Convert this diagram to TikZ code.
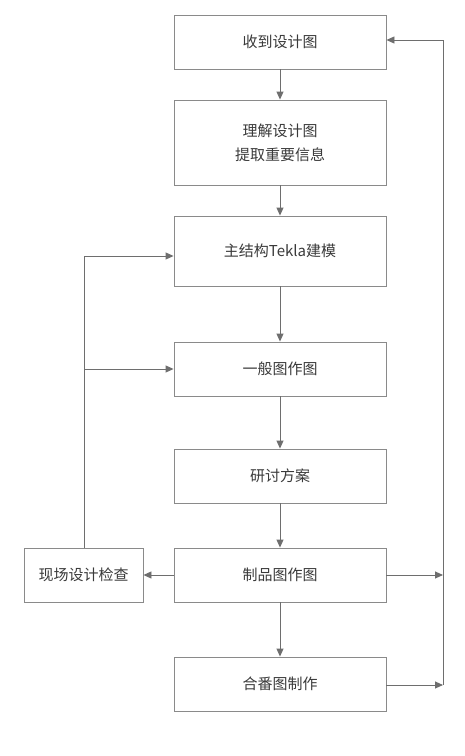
\documentclass[tikz,border=0pt]{standalone}
\usepackage{fontspec}
\setmainfont{Noto Sans CJK SC}
\usetikzlibrary{arrows.meta}
\definecolor{boxc}{HTML}{8A8A8A}
\definecolor{linec}{HTML}{6E6E6E}
\definecolor{txt}{HTML}{3A3A3A}
\begin{document}
\begin{tikzpicture}[x=1pt,y=-1pt,
  stepbox/.style={draw=boxc,line width=0.9pt,minimum width=212pt,inner sep=0pt,align=center,text=txt,font=\fontsize{15}{24}\selectfont},
  sidebox/.style={draw=boxc,line width=0.9pt,minimum width=119pt,minimum height=54pt,inner sep=0pt,align=center,text=txt,font=\fontsize{15}{24}\selectfont},
  conn/.style={draw=linec,line width=0.9pt,-{Triangle[length=8pt,width=7pt]}},
  plain/.style={draw=linec,line width=0.9pt}]
\useasboundingbox (0,0) rectangle (464,756);
\fill[white] (0,0) rectangle (464,756);
\node[stepbox,minimum height=54pt] (b1) at (280,42) {收到设计图};
\node[stepbox,minimum height=85pt] (b2) at (280,142.5) {理解设计图\\提取重要信息};
\node[stepbox,minimum height=70pt] (b3) at (280,251) {主结构Tekla建模};
\node[stepbox,minimum height=54pt] (b4) at (280,369) {一般图作图};
\node[stepbox,minimum height=54pt] (b5) at (280,476) {研讨方案};
\node[stepbox,minimum height=54pt] (b6) at (280,575) {制品图作图};
\node[stepbox,minimum height=54pt] (b7) at (280,684) {合番图制作};
\node[sidebox] (s) at (83.5,575) {现场设计检查};
\coordinate (r1) at (443,40);
\coordinate (r6) at (443,575);
\coordinate (r7) at (443,685);
\coordinate (l3) at (84,256);
\coordinate (l4) at (84,369);
\draw[conn] (b1) -- (b2);
\draw[conn] (b2) -- (b3);
\draw[conn] (b3) -- (b4);
\draw[conn] (b4) -- (b5);
\draw[conn] (b5) -- (b6);
\draw[conn] (b6) -- (b7);
\draw[conn] (b6) -- (s);
\draw[conn] (b6.east) -- (r6);
\draw[conn] (b7.east|-r7) -- (r7);
\draw[conn] (r7) -- (r1) -- (b1.east|-r1);
\draw[conn] (s.north-|l3) -- (l3) -- (b3.west|-l3);
\draw[conn] (l4) -- (b4.west);
\end{tikzpicture}
\end{document}
